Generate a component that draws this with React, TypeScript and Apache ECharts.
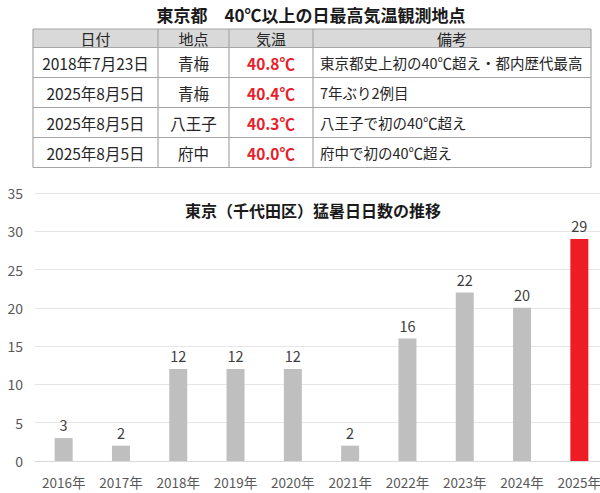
import { useEffect, useRef } from "react";
import * as echarts from "echarts";

const FONT = '"Noto Sans CJK JP", "Noto Sans", sans-serif';

// table
const tableTitle = "東京都　40℃以上の日最高気温観測地点";
const tableHeaders = ["日付", "地点", "気温", "備考"];
const obsDates = ["2018年7月23日", "2025年8月5日", "2025年8月5日", "2025年8月5日"];
const obsPlaces = ["青梅", "青梅", "八王子", "府中"];
const obsTemps = ["40.8℃", "40.4℃", "40.3℃", "40.0℃"];
const obsNotes = [
  "東京都史上初の40℃超え・都内歴代最高",
  "7年ぶり2例目",
  "八王子で初の40℃超え",
  "府中で初の40℃超え",
];

// chart
const chartTitle = "東京（千代田区）猛暑日日数の推移";
const years = ["2016年", "2017年", "2018年", "2019年", "2020年", "2021年", "2022年", "2023年", "2024年", "2025年"];
const hotDays = [3, 2, 12, 12, 12, 2, 16, 22, 20, 29];
const highlightYear = "2025年";

const GRAY = "#bfbfbf";
const RED = "#ee1c25";
const TEXT = "#595959";

function buildTable(): any[] {
  const cols = [33, 158, 229, 313, 591];
  const top = 29;
  const headH = 18.5;
  const rowH = 30;
  const rowYs = [top, top + headH];
  obsDates.forEach((_, i) => rowYs.push(top + headH + rowH * (i + 1)));
  const bottom = rowYs[rowYs.length - 1];
  const border = "#a6a6a6";
  const els: any[] = [];

  els.push({
    type: "rect",
    shape: { x: cols[0], y: top, width: cols[4] - cols[0], height: headH },
    style: { fill: "#d9d9d9" },
  });
  rowYs.forEach(y => {
    els.push({
      type: "line",
      shape: { x1: cols[0], y1: y, x2: cols[4], y2: y },
      style: { stroke: border, lineWidth: 1.2 },
    });
  });
  cols.forEach(x => {
    els.push({
      type: "line",
      shape: { x1: x, y1: top, x2: x, y2: bottom },
      style: { stroke: border, lineWidth: 1.2 },
    });
  });

  const center = (i: number) => (cols[i] + cols[i + 1]) / 2;
  tableHeaders.forEach((h, i) => {
    els.push({
      type: "text",
      style: {
        text: h, x: center(i), y: top + headH / 2,
        align: "center", verticalAlign: "middle",
        font: `15px ${FONT}`, fill: "#262626",
      },
    });
  });
  obsDates.forEach((d, r) => {
    const cy = top + headH + rowH * r + rowH / 2;
    const cells = [d, obsPlaces[r], obsTemps[r]];
    cells.forEach((t, i) => {
      els.push({
        type: "text",
        style: {
          text: t, x: center(i), y: cy,
          align: "center", verticalAlign: "middle",
          font: i === 2 ? `bold 15.5px ${FONT}` : `15.5px ${FONT}`,
          fill: i === 2 ? "#e8202a" : "#262626",
        },
      });
    });
    els.push({
      type: "text",
      style: {
        text: obsNotes[r], x: cols[3] + 7, y: cy,
        align: "left", verticalAlign: "middle",
        font: `14.5px ${FONT}`, fill: "#262626",
      },
    });
  });
  return els;
}

export default function App() {
  const ref = useRef<HTMLDivElement>(null);

  useEffect(() => {
    if (!ref.current) return;
    const chart = echarts.init(ref.current, null, { renderer: "svg" });

    chart.setOption({
      animation: false,
      backgroundColor: "#ffffff",
      textStyle: { fontFamily: FONT },
      // plot area runs a little past the right edge, as in the reference
      grid: {
        left: 35, top: 193, width: 573, height: 268,
        containLabel: false, outerBoundsMode: "none",
      },
      xAxis: {
        type: "category",
        data: years,
        axisLine: { show: true, lineStyle: { color: "#d9d9d9" } },
        axisTick: { show: false },
        axisLabel: { color: TEXT, fontSize: 13.5, margin: 14, interval: 0, fontFamily: FONT },
      },
      yAxis: {
        type: "value",
        min: 0,
        max: 35,
        interval: 5,
        axisLine: { show: false },
        axisTick: { show: false },
        axisLabel: { color: TEXT, fontSize: 14, margin: 12, fontFamily: FONT },
        splitLine: { lineStyle: { color: "#e6e6e6" } },
      },
      series: [
        {
          type: "bar",
          data: hotDays.map((v, i) => ({
            value: v,
            itemStyle: { color: years[i] === highlightYear ? RED : GRAY },
          })),
          barWidth: 18,
          label: {
            show: true,
            position: "top",
            distance: 6,
            color: "#404040",
            fontSize: 14.5,
            fontFamily: FONT,
          },
        },
      ],
      graphic: [
        {
          type: "text",
          style: {
            text: tableTitle, x: 311, y: 14,
            align: "center", verticalAlign: "middle",
            font: `bold 17px ${FONT}`, fill: "#1a1a1a",
          },
        },
        ...buildTable(),
        {
          type: "text",
          style: {
            text: chartTitle, x: 313, y: 210,
            align: "center", verticalAlign: "middle",
            font: `bold 16px ${FONT}`, fill: "#1a1a1a",
          },
        },
      ],
    });

    return () => chart.dispose();
  }, []);

  return (
    <div style={{ position: "fixed", left: 0, top: 0, width: 600, height: 493, background: "#fff" }}>
      <div ref={ref} style={{ width: 600, height: 493 }} />
    </div>
  );
}
